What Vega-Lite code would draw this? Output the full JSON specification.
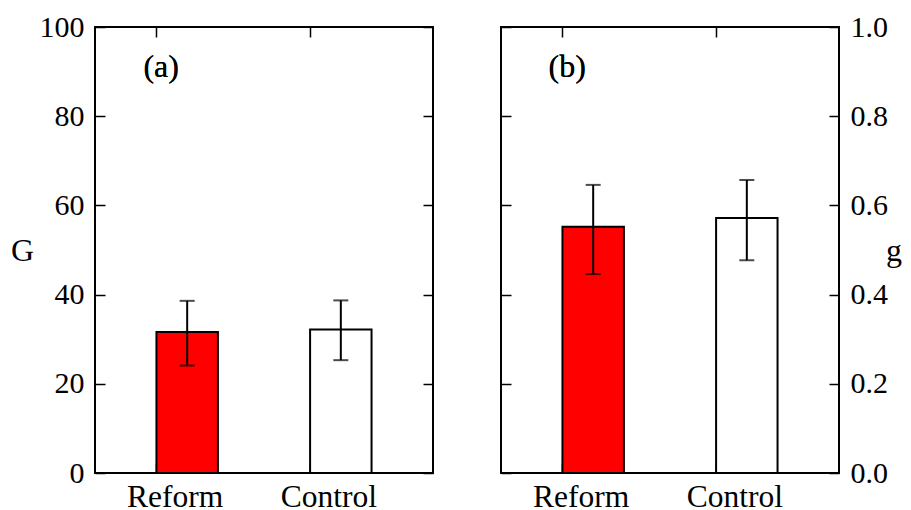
{
  "$schema": "https://vega.github.io/schema/vega-lite/v6.json",
  "padding": {"left": 9, "top": 11, "right": 0, "bottom": 0},
  "config": {
    "font": "Liberation Serif",
    "view": {"stroke": "black", "strokeWidth": 2},
    "text": {"font": "Liberation Serif", "fontWeight": "normal"},
    "axis": {
      "domain": false, "grid": false,
      "tickColor": "black", "tickWidth": 1.5, "tickSize": -10,
      "labelFont": "Liberation Serif", "labelFontWeight": "normal",
      "labelColor": "black", "labelFontSize": 30, "labelPadding": 21,
      "titleFont": "Liberation Serif",
      "titleColor": "black", "titleFontSize": 32, "titleFontWeight": "normal"
    }
  },
  "datasets": {
    "a": [
      {"group": "Reform", "value": 31.6, "lo": 24.1, "hi": 38.6},
      {"group": "Control", "value": 32.2, "lo": 25.3, "hi": 38.7}
    ],
    "b": [
      {"group": "Reform", "value": 0.552, "lo": 0.446, "hi": 0.646},
      {"group": "Control", "value": 0.572, "lo": 0.477, "hi": 0.657}
    ]
  },
  "hconcat": [
    {
      "width": 338, "height": 446,
      "data": {"name": "a"},
      "layer": [
        {
          "mark": {"type": "bar", "stroke": "black", "strokeWidth": 2},
          "encoding": {
            "x": {"field": "group", "type": "nominal", "sort": ["Reform", "Control"],
                  "scale": {"paddingInner": 0.6, "paddingOuter": 0.4},
                  "axis": {"orient": "bottom", "title": null, "labelAngle": 0, "bandPosition": 0, "labelOffset": -12, "labelFontSize": 31.5, "labelPadding": 18}},
            "y": {"field": "value", "type": "quantitative",
                  "scale": {"domain": [0, 100], "nice": false},
                  "axis": {"orient": "left", "values": [0, 20, 40, 60, 80, 100], "title": "G",
                           "titleAngle": 0, "titleBaseline": "middle", "titlePadding": 17}},
            "color": {"field": "group", "type": "nominal",
                      "scale": {"domain": ["Reform", "Control"], "range": ["#ff0000", "#ffffff"]},
                      "legend": null}
          }
        },
        {
          "mark": {"type": "rule", "color": "black", "strokeWidth": 2},
          "encoding": {
            "x": {"field": "group", "type": "nominal", "sort": ["Reform", "Control"],
                  "axis": {"orient": "top", "title": null, "labels": false, "bandPosition": 0}},
            "y": {"field": "lo", "type": "quantitative",
                  "axis": {"orient": "right", "values": [0, 20, 40, 60, 80, 100], "labels": false, "title": null}},
            "y2": {"field": "hi"}
          }
        },
        {
          "mark": {"type": "tick", "color": "black", "thickness": 2, "size": 15, "orient": "horizontal"},
          "encoding": {
            "x": {"field": "group", "type": "nominal", "sort": ["Reform", "Control"], "axis": null},
            "y": {"field": "lo", "type": "quantitative", "axis": null}
          }
        },
        {
          "mark": {"type": "tick", "color": "black", "thickness": 2, "size": 15, "orient": "horizontal"},
          "encoding": {
            "x": {"field": "group", "type": "nominal", "sort": ["Reform", "Control"], "axis": null},
            "y": {"field": "hi", "type": "quantitative", "axis": null}
          }
        },
        {
          "mark": {"type": "text", "text": "(a)", "font": "Liberation Serif", "fontWeight": "normal", "fontSize": 32, "align": "center", "baseline": "alphabetic", "dx": -26, "color": "black"},
          "encoding": {
            "x": {"datum": "Reform", "axis": null},
            "y": {"datum": 88.9, "axis": null}
          }
        }
      ],
      "resolve": {"axis": {"x": "independent", "y": "independent"}}
    },
    {
      "width": 338, "height": 446,
      "data": {"name": "b"},
      "layer": [
        {
          "mark": {"type": "bar", "stroke": "black", "strokeWidth": 2},
          "encoding": {
            "x": {"field": "group", "type": "nominal", "sort": ["Reform", "Control"],
                  "scale": {"paddingInner": 0.6, "paddingOuter": 0.4},
                  "axis": {"orient": "bottom", "title": null, "labelAngle": 0, "bandPosition": 0, "labelOffset": -12, "labelFontSize": 31.5, "labelPadding": 18}},
            "y": {"field": "value", "type": "quantitative",
                  "scale": {"domain": [0, 1], "nice": false},
                  "axis": {"orient": "right", "values": [0, 0.2, 0.4, 0.6, 0.8, 1.0], "format": ".1f", "title": "g",
                           "titleAngle": 0, "titleBaseline": "middle", "titlePadding": 6}},
            "color": {"field": "group", "type": "nominal",
                      "scale": {"domain": ["Reform", "Control"], "range": ["#ff0000", "#ffffff"]},
                      "legend": null}
          }
        },
        {
          "mark": {"type": "rule", "color": "black", "strokeWidth": 2},
          "encoding": {
            "x": {"field": "group", "type": "nominal", "sort": ["Reform", "Control"],
                  "axis": {"orient": "top", "title": null, "labels": false, "bandPosition": 0}},
            "y": {"field": "lo", "type": "quantitative",
                  "axis": {"orient": "left", "values": [0, 0.2, 0.4, 0.6, 0.8, 1.0], "labels": false, "title": null}},
            "y2": {"field": "hi"}
          }
        },
        {
          "mark": {"type": "tick", "color": "black", "thickness": 2, "size": 15, "orient": "horizontal"},
          "encoding": {
            "x": {"field": "group", "type": "nominal", "sort": ["Reform", "Control"], "axis": null},
            "y": {"field": "lo", "type": "quantitative", "axis": null}
          }
        },
        {
          "mark": {"type": "tick", "color": "black", "thickness": 2, "size": 15, "orient": "horizontal"},
          "encoding": {
            "x": {"field": "group", "type": "nominal", "sort": ["Reform", "Control"], "axis": null},
            "y": {"field": "hi", "type": "quantitative", "axis": null}
          }
        },
        {
          "mark": {"type": "text", "text": "(b)", "font": "Liberation Serif", "fontWeight": "normal", "fontSize": 32, "align": "center", "baseline": "alphabetic", "dx": -26, "color": "black"},
          "encoding": {
            "x": {"datum": "Reform", "axis": null},
            "y": {"datum": 0.889, "axis": null}
          }
        }
      ],
      "resolve": {"axis": {"x": "independent", "y": "independent"}}
    }
  ],
  "spacing": 64
}
